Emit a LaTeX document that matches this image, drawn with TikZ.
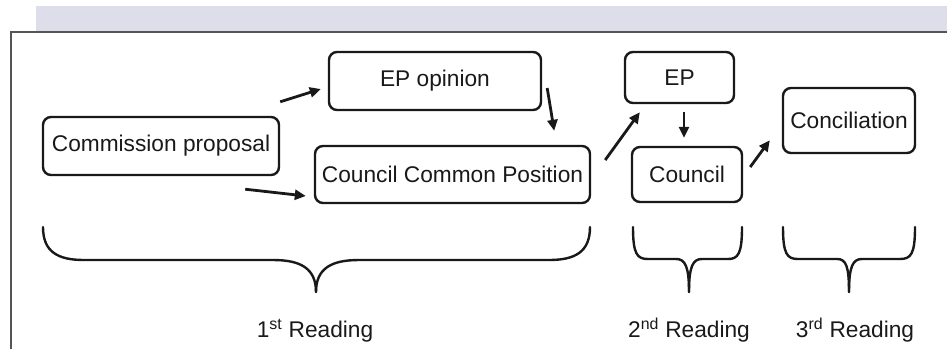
\documentclass[tikz,border=0pt]{standalone}
\usepackage{fontspec}
\setmainfont{Liberation Sans}
\usetikzlibrary{arrows.meta,calc}
\definecolor{bandcol}{RGB}{222,222,234}
\definecolor{framecol}{RGB}{85,85,85}
\definecolor{inkcol}{RGB}{25,25,25}
\tikzset{
  stagebox/.style={draw=inkcol, line width=2.4pt, rounded corners=8pt, inner sep=0pt,
    font=\fontsize{22.7}{26}\selectfont, text=inkcol, align=center},
  arr/.style={draw=inkcol, line width=2.8pt, -{Triangle[length=11pt,width=10pt]}},
  bracestyle/.style={draw=inkcol, line width=2.4pt, line cap=round},
  readlabel/.style={font=\fontsize{22.7}{26}\selectfont, text=inkcol, inner sep=0pt}
}
\begin{document}
\begin{tikzpicture}[x=1pt,y=-1pt]
\useasboundingbox (0,0) rectangle (947,349);
% header band and frame
\fill[bandcol] (36,6) rectangle (947,32);
\draw[framecol, line width=2.4pt] (947,32) -- (11,32) -- (11,349);

% boxes
\node[stagebox, minimum width=236pt, minimum height=58pt] (cp) at (161,146) {Commission proposal};
\node[stagebox, minimum width=212pt, minimum height=58pt] (epo) at (435,81) {EP opinion};
\node[stagebox, minimum width=275pt, minimum height=57pt] (ccp) at (452.5,174.5) {Council Common Position};
\node[stagebox, minimum width=109pt, minimum height=51pt] (ep) at (679.5,77.5) {EP};
\node[stagebox, minimum width=110pt, minimum height=55pt] (co) at (687,174.5) {Council};
\node[stagebox, minimum width=132pt, minimum height=65pt] (conc) at (849,120.5) {Conciliation};

% arrows
\draw[arr] ($(cp.north east)+(0,-14)$) -- ($(epo.west)+(-7,8)$);
\draw[arr] ($(cp.south east)+(-35,13)$) -- ($(ccp.west)+(-8,21.5)$);
\draw[arr] ($(epo.east)+(5,7)$) -- ($(ccp.north east)+(-37,-14)$);
\draw[arr] ($(ccp.east)+(14,-14.5)$) -- ($(ep.south west)+(16,8)$);
\draw[arr] ($(ep.south)+(4.5,8)$) -- ($(co.north)+(-3,-8)$);
\draw[arr] ($(co.east)+(7,-7.5)$) -- ($(conc.south west)+(-12,-14)$);

% braces
\draw[bracestyle] (43,227) .. controls (43,252) and (58,260) .. (84,260) -- (273,260)
  .. controls (300,260) and (316,268) .. (316,292);
\draw[bracestyle] (590,227) .. controls (590,252) and (575,260) .. (549,260) -- (359,260)
  .. controls (332,260) and (316,268) .. (316,292);

\draw[bracestyle] (633,227) .. controls (633,254) and (637,259) .. (648,259) -- (676,259)
  .. controls (685,259) and (689,266) .. (689,292);
\draw[bracestyle] (742,227) .. controls (742,254) and (738,259) .. (728,259) -- (702,259)
  .. controls (693,259) and (689,266) .. (689,292);

\draw[bracestyle] (783,227) .. controls (783,254) and (787,259) .. (798,259) -- (837,259)
  .. controls (846,259) and (849,266) .. (849,292);
\draw[bracestyle] (915,227) .. controls (915,254) and (911,259) .. (900,259) -- (862,259)
  .. controls (853,259) and (849,266) .. (849,292);

% labels
\node[readlabel, anchor=base] (r1) at (315,337) {1\textsuperscript{st} Reading};
\node[readlabel, anchor=base] (r2) at (689,337) {2\textsuperscript{nd} Reading};
\node[readlabel, anchor=base] (r3) at (855,337) {3\textsuperscript{rd} Reading};
\end{tikzpicture}
\end{document}
